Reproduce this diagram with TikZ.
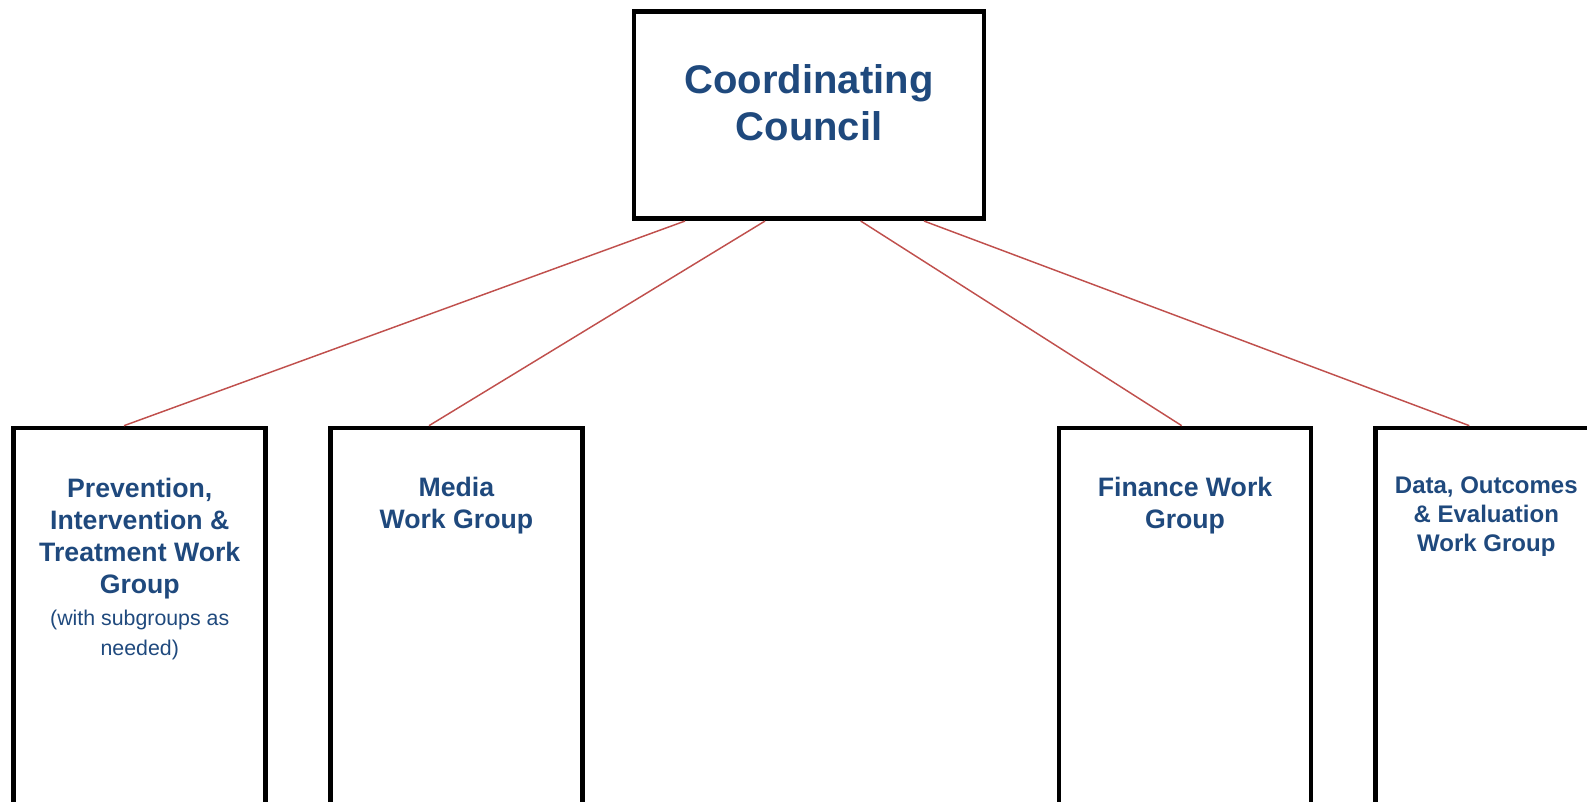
\documentclass[tikz,border=0pt]{standalone}
\usepackage{fontspec}
\setmainfont{Liberation Sans}
\usetikzlibrary{calc}
\definecolor{councilblue}{HTML}{1F497D}
\definecolor{linkred}{HTML}{C0504D}
\begin{document}
\begin{tikzpicture}[x=0.75pt, y=-0.75pt,
   every node/.style={inner sep=0pt},
   box/.style={draw=black, line width=3.5pt, rectangle},
   council/.style={box, minimum width=262.5pt, minimum height=155.25pt},
   workgroup/.style={box, minimum width=189pt, minimum height=301.5pt},
   grouptitle/.style={anchor=north, align=center, text=councilblue,
                      font=\fontsize{20}{24}\selectfont\bfseries},
   groupnote/.style={anchor=north, align=center, text=councilblue,
                     font=\fontsize{16}{22.8}\selectfont},
   link/.style={draw=linkred, line width=1.1pt}]

\useasboundingbox (0,0) rectangle (1587,801);

% boxes
\node[council] (cc) at (809,115.2) {};
\node[workgroup] (pit) at (139.75,629) {};
\node[workgroup] (media) at (456.4,629) {};
\node[workgroup] (finance) at (1185,629) {};
\node[workgroup] (data) at (1501.3,629) {};

% texts
\node[grouptitle, font=\fontsize{30}{35.5}\selectfont\bfseries] (cc-text)
    at ($(cc.north)+(0,54.7)$) {Coordinating\\Council};
\node[grouptitle] (pit-text) at ($(pit.north)+(0,52.2)$)
    {Prevention,\\Intervention \&\\Treatment Work\\Group};
\node[groupnote] (pit-note) at ($(pit.north)+(0,184)$)
    {(with subgroups as\\needed)};
\node[grouptitle] (media-text) at ($(media.north)+(0,51.6)$) {Media\\Work Group};
\node[grouptitle] (finance-text) at ($(finance.north)+(0,50.9)$) {Finance Work\\Group};
\node[grouptitle, font=\fontsize{18}{21.7}\selectfont\bfseries] (data-text)
    at ($(data.north)+(-15,51.1)$) {Data, Outcomes\\\& Evaluation\\Work Group};

% links
\draw[link] ($(cc.south)+(-124,0)$) -- ($(pit.north)+(-15.75,0)$);
\draw[link] ($(cc.south)+(-44,0)$) -- ($(media.north)+(-27.4,0)$);
\draw[link] ($(cc.south)+(51.7,0)$) -- ($(finance.north)+(-3.3,0)$);
\draw[link] ($(cc.south)+(115,0)$) -- ($(data.north)+(-32,0)$);

\end{tikzpicture}
\end{document}
